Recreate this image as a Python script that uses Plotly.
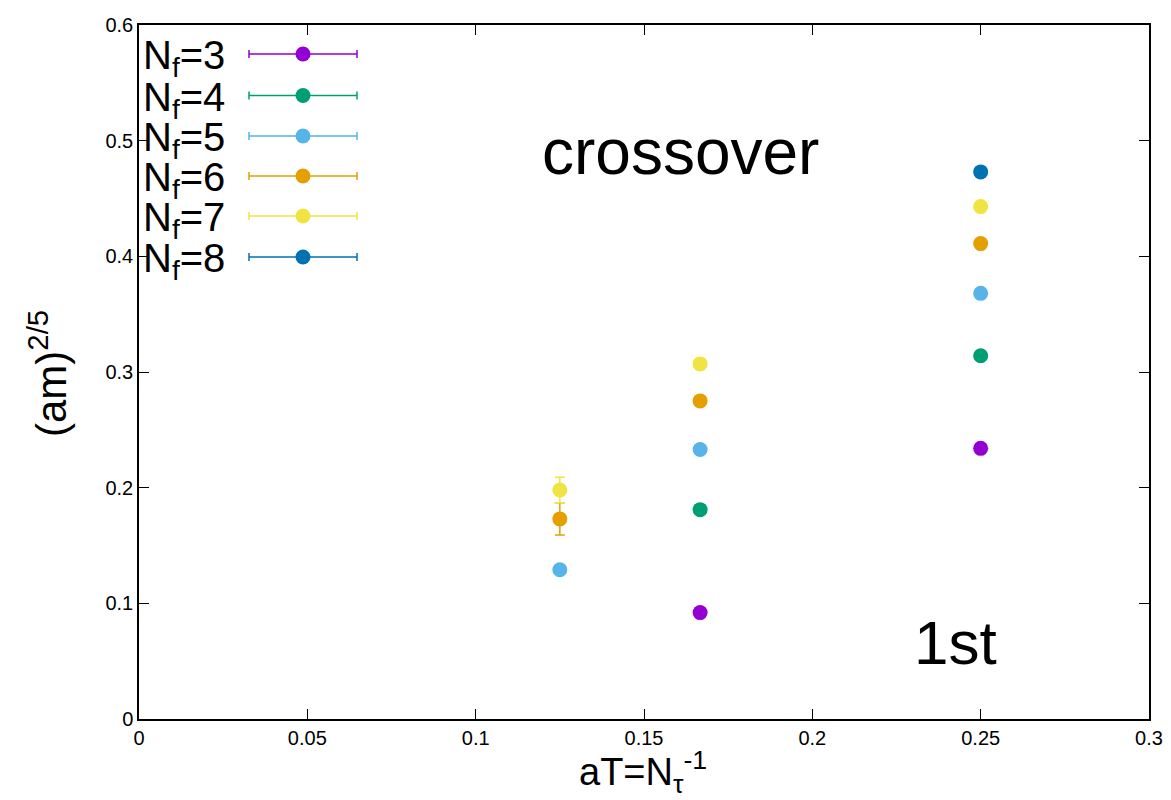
import plotly.graph_objects as go

# Inverse temporal extent aT = 1/N_tau for N_tau = 8, 6, 4
aT = [1 / 8, 1 / 6, 1 / 4]

# Critical mass (am)^(2/5) per flavour number; None = no point at that aT
nf_labels = [3, 4, 5, 6, 7, 8]
m_nf3 = [None, 0.092, 0.234]
m_nf4 = [None, 0.181, 0.314]
m_nf5 = [0.129, 0.233, 0.368]
m_nf6 = [0.173, 0.275, 0.411]
m_nf7 = [0.198, 0.307, 0.443]
m_nf8 = [None, None, 0.473]

e_nf3 = [0, 0.003, 0.002]
e_nf4 = [0, 0.002, 0.002]
e_nf5 = [0.002, 0.002, 0.002]
e_nf6 = [0.014, 0.003, 0.002]
e_nf7 = [0.011, 0.003, 0.002]
e_nf8 = [0, 0, 0.002]

series = [m_nf3, m_nf4, m_nf5, m_nf6, m_nf7, m_nf8]
errors = [e_nf3, e_nf4, e_nf5, e_nf6, e_nf7, e_nf8]
colors = ["#9400D3", "#009E73", "#56B4E9", "#E69F00", "#F0E442", "#0072B2"]

x_ticks = [0, 0.05, 0.1, 0.15, 0.2, 0.25, 0.3]
y_ticks = [0, 0.1, 0.2, 0.3, 0.4, 0.5, 0.6]

FONT = "Liberation Sans, Arial, Helvetica, sans-serif"

W, H = 1171, 800
L, R, T, B = 139, 22, 25, 81
pw, ph = W - L - R, H - T - B


def px_x(px):
    return (px - L) / pw


def px_y(py):
    return (H - B - py) / ph


fig = go.Figure()

for nf, ys, es, col in zip(nf_labels, series, errors, colors):
    xs = [x for x, y in zip(aT, ys) if y is not None]
    yv = [y for y in ys if y is not None]
    ev = [e for e, y in zip(es, ys) if y is not None]
    fig.add_trace(go.Scatter(
        x=xs, y=yv, mode="markers", name=f"N_f={nf}",
        marker=dict(color=col, size=15, line=dict(width=0)),
        error_y=dict(type="data", array=ev, visible=True, color=col,
                     thickness=1.5, width=5),
        showlegend=False,
    ))

# Key: text on the left, error-bar sample on the right
row_y = [54, 95.5, 136, 176, 216, 257]
sample_x = 303
half_w = 54
for nf, col, ry in zip(nf_labels, colors, row_y):
    fig.add_trace(go.Scatter(
        x=[px_x(sample_x)], y=[px_y(ry)], mode="markers",
        xaxis="x2", yaxis="y2", showlegend=False, hoverinfo="skip",
        marker=dict(color=col, size=15, line=dict(width=0)),
        error_x=dict(type="constant", value=half_w / pw, visible=True,
                     color=col, thickness=1.5, width=4),
    ))
    fig.add_annotation(
        x=px_x(227), y=px_y(ry + 4), xref="paper", yref="paper",
        text=f"N<sub>f</sub>={nf}", showarrow=False,
        xanchor="right", yanchor="middle",
        font=dict(family=FONT, size=40, color="black"),
    )

fig.add_annotation(
    x=0.1607, y=0.49, xref="x", yref="y", text="crossover", showarrow=False,
    xanchor="center", yanchor="middle",
    font=dict(family=FONT, size=64, color="black"),
)
fig.add_annotation(
    x=0.2426, y=0.066, xref="x", yref="y", text="1st", showarrow=False,
    xanchor="center", yanchor="middle",
    font=dict(family=FONT, size=62, color="black"),
)

# Axis titles
fig.add_annotation(
    x=px_x(643), y=px_y(772), xref="paper", yref="paper",
    text="aT=N<sub>τ</sub><sup>-1</sup>", showarrow=False,
    xanchor="center", yanchor="middle",
    font=dict(family=FONT, size=38, color="black"),
)
fig.add_annotation(
    x=px_x(48), y=px_y(374), xref="paper", yref="paper",
    text="(am)<sup>2/5</sup>", showarrow=False, textangle=-90,
    xanchor="center", yanchor="middle",
    font=dict(family=FONT, size=42, color="black"),
)

axis_common = dict(
    showgrid=False, zeroline=False, showline=True, linecolor="black",
    linewidth=1.5, mirror="allticks", ticks="inside", ticklen=10,
    tickwidth=1, tickcolor="black",
    tickfont=dict(family=FONT, size=20, color="black"),
)

fig.update_layout(
    width=W, height=H,
    margin=dict(l=L, r=R, t=T, b=B, autoexpand=False),
    paper_bgcolor="white", plot_bgcolor="white",
    xaxis=dict(range=[0, 0.3], tickvals=x_ticks,
               ticktext=[f"{v:g}" for v in x_ticks], **axis_common),
    yaxis=dict(range=[0, 0.6], tickvals=y_ticks,
               ticktext=[f"{v:g}" for v in y_ticks], **axis_common),
    xaxis2=dict(range=[0, 1], overlaying="x", visible=False, fixedrange=True),
    yaxis2=dict(range=[0, 1], overlaying="y", visible=False, fixedrange=True),
    showlegend=False,
)

fig.write_html("out.html")
